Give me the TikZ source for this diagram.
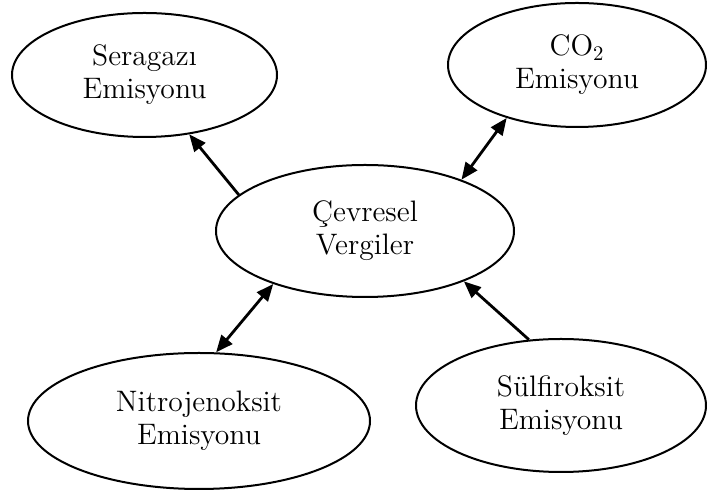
\documentclass[tikz,border=0pt]{standalone}
\usepackage{fontspec}
\usepackage{tikz}
\usetikzlibrary{arrows.meta}
\usetikzlibrary{shapes.geometric}

\begin{document}
\begin{tikzpicture}[x=0.5pt,y=-0.5pt,
    emis/.style={ellipse,draw,line width=1pt,inner sep=0pt,align=center,
      font=\fontsize{14.8}{16.5}\selectfont},
    arr/.style={line width=1.4pt},
    >={Triangle[length=8.5pt,width=7pt]}]
    \useasboundingbox (0,0) rectangle (707,490);
    % ellipses
    \node[emis,minimum width=132.5pt,minimum height=62pt] (ser) at (144.5,75)
      {Seragazı\\Emisyonu};
    \node[emis,minimum width=129pt,minimum height=62pt] (co) at (577,65)
      {CO\textsubscript{2}\\Emisyonu};
    \node[emis,minimum width=149pt,minimum height=66pt] (cev) at (365,231)
      {Çevresel\\Vergiler};
    \node[emis,minimum width=171pt,minimum height=68pt] (nit) at (199,421)
      {Nitrojenoksit\\Emisyonu};
    \node[emis,minimum width=145pt,minimum height=66.5pt] (sul) at (561,405.5)
      {Sülfiroksit\\Emisyonu};
    % arrows
    \draw[arr,->] (cev.164) -- (ser.-53);
    \draw[arr,<->] (cev.28) -- (co.-143);
    \draw[arr,<->] (cev.-150) -- (nit.76);
    \draw[arr,->] (sul.116) -- (cev.-27.5);
\end{tikzpicture}
\end{document}
